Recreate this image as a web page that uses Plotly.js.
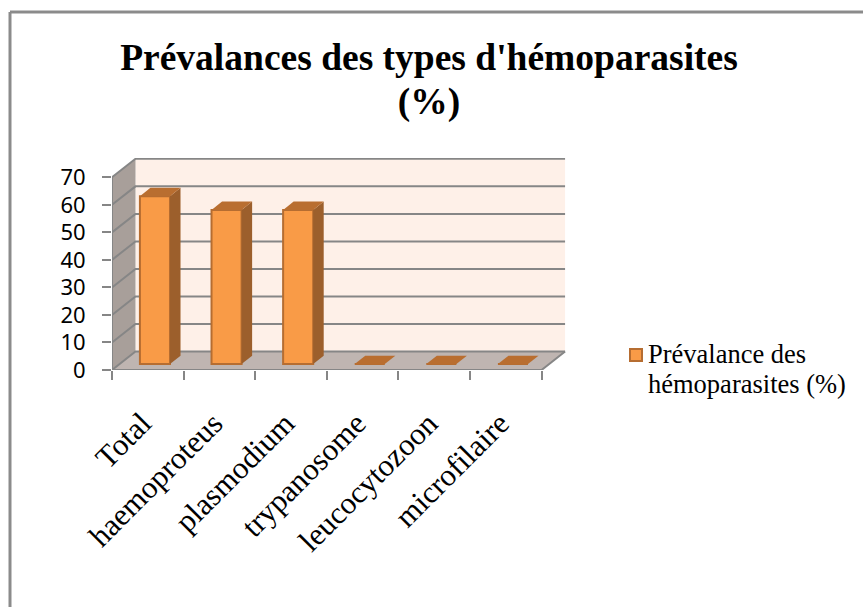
<!DOCTYPE html>
<html><head><meta charset="utf-8">
<script src="https://cdn.plot.ly/plotly-3.0.1.min.js"></script>
<style>html,body{margin:0;padding:0;background:#fff}</style></head>
<body><div id="chart" style="width:863px;height:607px"></div>
<script>
const categories = ["Total","haemoproteus","plasmodium","trypanosome","leucocytozoon","microfilaire"];
const values = [61,56,56,0,0,0];
const seriesName = "Prévalance des<br>hémoparasites (%)";
const yTicks = [0,10,20,30,40,50,60,70];

// 3-D look: depth of the box and of the bars, in axis units
const nCat = categories.length, yMax = 70;
const boxDx = 0.328, boxDy = 6.7;
const barDx = 0.147, barDy = 3.05, barBase = 2.15, barOff = 0.6, barW = 0.42;
const xRange = [0, 6.355], yRange = [0, 77];
const grid = '#868686', edge = '#B66D31';

function poly(xs, ys, fill, axes){
  return Object.assign({type:'scatter',mode:'lines',x:xs,y:ys,fill:'toself',fillcolor:fill,
    line:{width:0},showlegend:false,hoverinfo:'skip',cliponaxis:false}, axes||{});
}
function line(xs, ys, w){
  return {type:'scatter',mode:'lines',x:xs,y:ys,line:{color:grid,width:w||2},showlegend:false,hoverinfo:'skip',cliponaxis:false};
}
const traces = [];
traces.push(poly([boxDx,nCat+boxDx,nCat+boxDx,boxDx,boxDx],[boxDy,boxDy,yMax+boxDy,yMax+boxDy,boxDy],'#FEF0E8'));
traces.push(poly([0,boxDx,boxDx,0,0],[0,boxDy,yMax+boxDy,yMax,0],'#A89F9A'));
traces.push(poly([0,nCat,nCat+boxDx,boxDx,0],[0,0,boxDy,boxDy,0],'#BFB5B1'));
yTicks.forEach(v=>traces.push(line([0,boxDx,nCat+boxDx],[v,v+boxDy,v+boxDy])));
traces.push(line([0,0],[0,yMax]));
traces.push(line([0,nCat,nCat+boxDx],[0,0,boxDy]));

const ax2 = {xaxis:'x2',yaxis:'y2'};
traces.push({type:'bar',name:seriesName,xaxis:'x2',yaxis:'y2',
  x:categories.map((c,i)=>i+barOff),y:values,base:values.map(()=>barBase),width:barW,
  marker:{color:'#F99B47',line:{color:edge,width:2}},hoverinfo:'skip',showlegend:true});
values.forEach((v,i)=>{
  const x0=i+barOff-barW/2, x1=i+barOff+barW/2, b=barBase, t=barBase+v;
  if(v>0) traces.push(poly([x1,x1+barDx,x1+barDx,x1,x1],[b,b+barDy,t+barDy,t,b],'#9C5F2C',ax2));
  traces.push(poly([x0,x1,x1+barDx,x0+barDx,x0],[t,t,t+barDy,t+barDy,t],'#B96E30',ax2));
});

const layout = {
  width:863,height:607,autosize:false,paper_bgcolor:'#fff',plot_bgcolor:'rgba(0,0,0,0)',
  margin:{l:112,r:296,t:158,b:237},
  bargap:0,
  title:{text:"Prévalances des types d'hémoparasites<br>(%)",
    font:{family:'Liberation Serif',size:37.5,color:'#000',weight:700},
    x:429/863,xanchor:'center',xref:'container',y:1-70/607,yanchor:'top',yref:'container',automargin:false},
  xaxis:{range:xRange,fixedrange:true,tickmode:'array',
    tickvals:categories.map((c,i)=>i+0.42),ticktext:categories,ticks:'',ticklen:0,tickangle:-45,
    ticklabelstandoff:28,showgrid:false,zeroline:false,showline:false,
    tickfont:{family:'Liberation Serif',size:31,color:'#000'}},
  yaxis:{range:yRange,fixedrange:true,tickmode:'array',tickvals:yTicks,ticktext:yTicks.map(String),
    ticks:'outside',ticklen:9,tickwidth:2,tickcolor:grid,ticklabelstandoff:12,
    showgrid:false,zeroline:false,showline:false,
    tickfont:{family:'Noto Sans',size:22,color:'#000'}},
  xaxis2:{range:xRange,overlaying:'x',anchor:'y2',fixedrange:true,tickmode:'array',
    tickvals:categories.map((c,i)=>i).concat([nCat]),ticks:'outside',ticklen:9,tickwidth:2,tickcolor:grid,
    showticklabels:false,showgrid:false,zeroline:false,showline:false},
  yaxis2:{range:yRange,overlaying:'y',anchor:'x2',fixedrange:true,visible:false},
  legend:{xref:'container',yref:'container',x:608/863,xanchor:'left',y:1-329/607,yanchor:'top',bgcolor:'rgba(0,0,0,0)',
    font:{family:'Liberation Serif',size:26.5,color:'#000'},itemwidth:30},
  shapes:[
    {type:'line',xref:'paper',yref:'paper',x0:-102/455,x1:751/455,y0:1+(158-12)/212,y1:1+(158-12)/212,line:{color:'#8B8B8B',width:3}},
    {type:'line',xref:'paper',yref:'paper',x0:-102/455,x1:-102/455,y0:1+(158-12)/212,y1:-237/212,line:{color:'#8B8B8B',width:3}}
  ]
};
Plotly.newPlot('chart',traces,layout,{displayModeBar:false,staticPlot:true}).then(()=>{
  document.querySelectorAll('.gtitle tspan.line').forEach((t,i)=>{ if(i>0) t.setAttribute('dy','1.18em'); });
  document.querySelectorAll('.legendtext tspan.line').forEach((t,i)=>{ if(i>0) t.setAttribute('dy','1.13em'); });
  document.querySelectorAll('.legend .legendpoints').forEach(p=>p.setAttribute('transform','translate(8,-15)'));
});
</script></body></html>
